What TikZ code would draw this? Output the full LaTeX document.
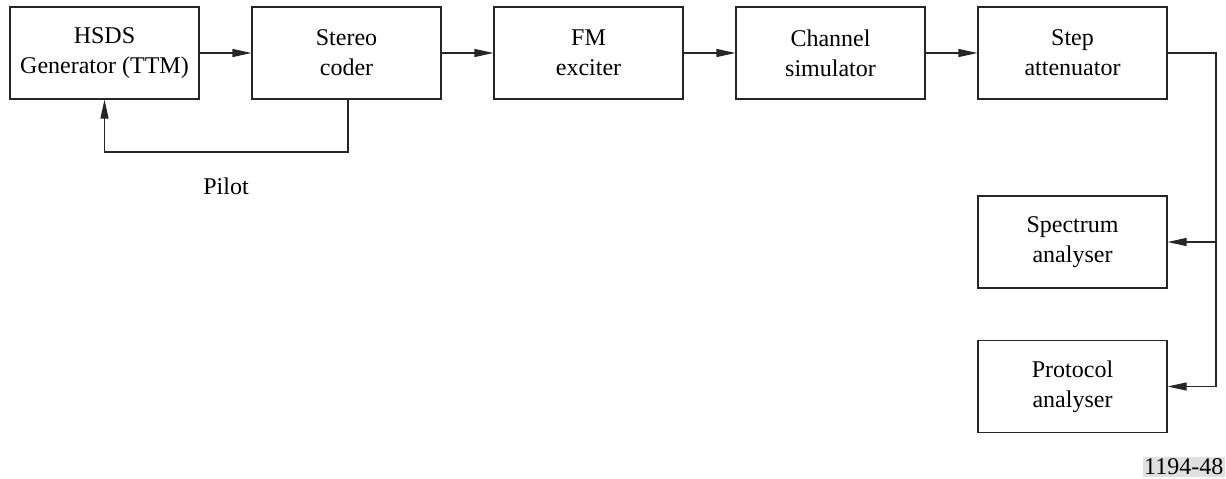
\documentclass[tikz,border=0pt]{standalone}
\usepackage{fontspec}
\setmainfont{Liberation Serif}
\usetikzlibrary{arrows.meta,positioning}
\definecolor{lbl}{RGB}{224,224,224}
\begin{document}
\begin{tikzpicture}[x=1pt,y=-1pt,
  blk/.style={draw=black!85,line width=1.1pt,minimum width=189pt,minimum height=92pt,
    inner sep=0pt,align=center,font=\fontsize{24}{30}\selectfont},
  conn/.style={line width=1.1pt,draw=black!85},
  arr/.style={conn,-{Triangle[length=19pt,width=8pt]}},
  txt/.style={font=\fontsize{24}{30}\selectfont}]
\useasboundingbox (0,0) rectangle (1226,479);
\node[blk] (hsds) at (104.5,53) {HSDS\\Generator (TTM)};
\node[blk] (stereo) at (346.5,53) {Stereo\\coder};
\node[blk] (fm) at (588.5,53) {FM\\exciter};
\node[blk] (chan) at (830.5,53) {Channel\\simulator};
\node[blk] (att) at (1072.5,53) {Step\\attenuator};
\node[blk] (spec) at (1072.5,242) {Spectrum\\analyser};
\node[blk] (prot) at (1072.5,386.5) {Protocol\\analyser};
\coordinate (fbr) at (348,152);
\coordinate (fbl) at (104.5,152);
\coordinate (rt) at (1216,53);
\coordinate (rm) at (1216,242);
\coordinate (rb) at (1216,386.5);
\draw[arr] (hsds) -- (stereo);
\draw[arr] (stereo) -- (fm);
\draw[arr] (fm) -- (chan);
\draw[arr] (chan) -- (att);
\draw[arr] (stereo.south -| fbr) -- (fbr) -- (fbl) -- (hsds.south);
\node[txt] (pilot) at (226,186) {Pilot};
\draw[conn] (att.east) -- (rt) -- (rm);
\draw[arr] (rm) -- (rb) -- (prot.east);
\draw[arr] (rm) -- (spec.east);
\node[txt,fill=lbl,inner xsep=1.5pt,inner ysep=2pt,anchor=south east] (fig) at (1225,477) {1194-48};
\end{tikzpicture}
\end{document}
